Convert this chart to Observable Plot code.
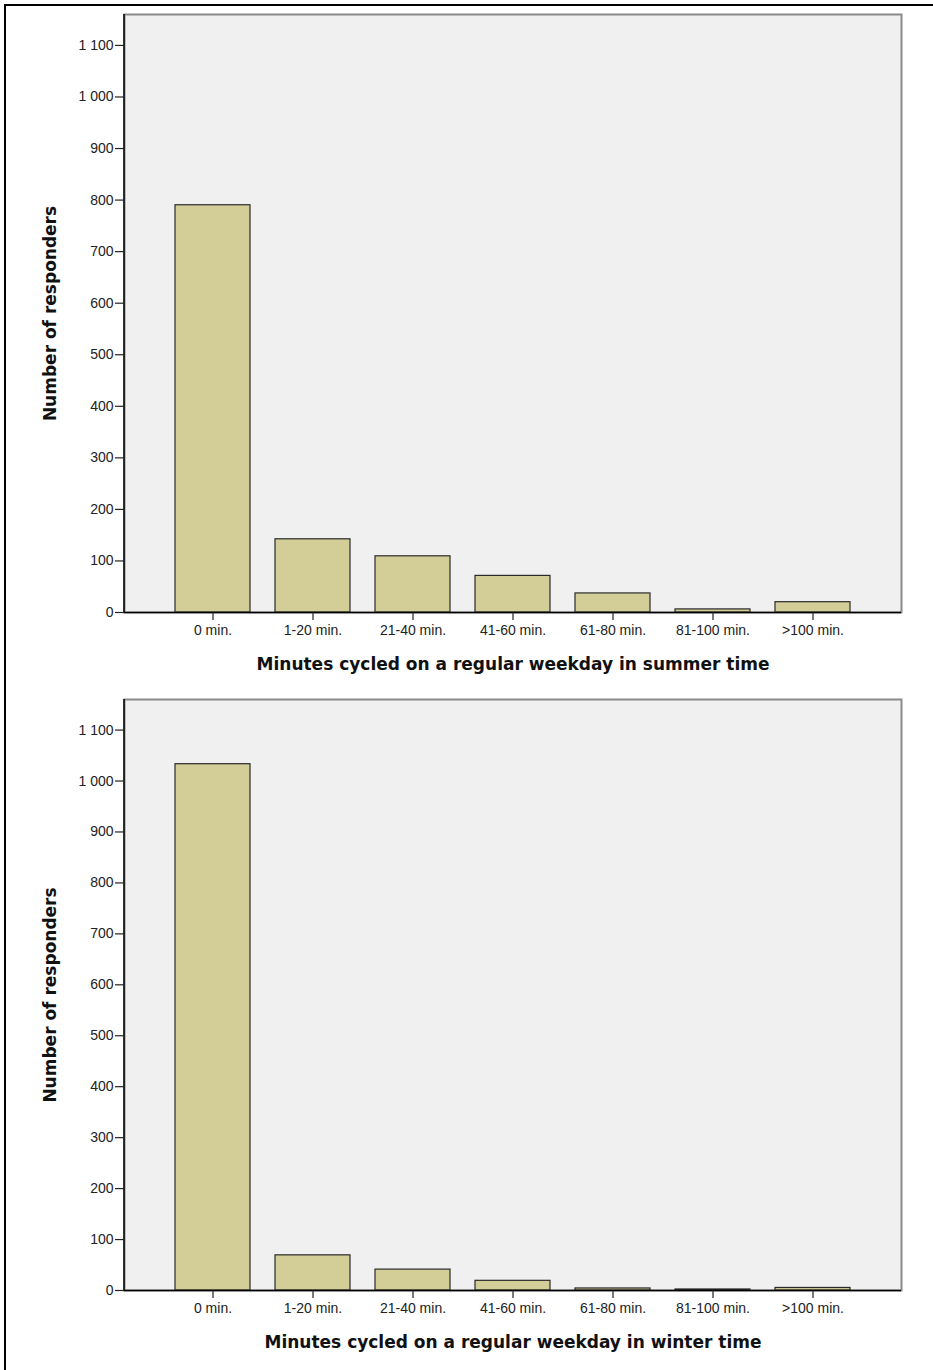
<!DOCTYPE html>
<html>
<head>
<meta charset="utf-8">
<script src="https://cdn.jsdelivr.net/npm/d3@7"></script>
<script src="https://cdn.jsdelivr.net/npm/@observablehq/plot@0.6"></script>
<style>
  html, body { margin: 0; padding: 0; background: #fff; }
  #page { position: relative; width: 933px; height: 1370px; overflow: hidden; }
  #frame { position: absolute; left: 4px; top: 4px; width: 940px; height: 1380px;
           border-left: 2px solid #000; border-top: 2px solid #000; }
  .chart { position: absolute; left: 0; }
</style>
</head>
<body>
<div id="page">
  <div id="frame"></div>
  <div id="c1" class="chart" style="top:0px"></div>
  <div id="c2" class="chart" style="top:690px"></div>
</div>
<script>
const categories = ["0 min.", "1-20 min.", "21-40 min.", "41-60 min.", "61-80 min.", "81-100 min.", ">100 min."];
const summerValues = [790, 142, 109, 71, 37, 6, 20];
const winterValues = [1033, 69, 41, 19, 4, 2, 5];
const yTicks = [0, 100, 200, 300, 400, 500, 600, 700, 800, 900, 1000, 1100];
const summerTitle = "Minutes cycled on a regular weekday in summer time";
const winterTitle = "Minutes cycled on a regular weekday in winter time";
const yTitle = "Number of responders";

const fmt = d3.formatLocale({decimal: ".", thousands: " ", grouping: [3], currency: ["", ""]}).format(",");

function leftAxisLine() {
  return (index, scales, values, dims) => {
    const g = document.createElementNS("http://www.w3.org/2000/svg", "line");
    g.setAttribute("x1", dims.marginLeft);
    g.setAttribute("x2", dims.marginLeft);
    g.setAttribute("y1", dims.marginTop);
    g.setAttribute("y2", dims.height - dims.marginBottom);
    g.setAttribute("stroke", "#000");
    g.setAttribute("stroke-width", 1.5);
    return g;
  };
}

function makeChart(values, title, height, marginTop, marginBottom) {
  const data = categories.map((c, i) => ({cat: c, n: values[i]}));
  return Plot.plot({
    width: 933,
    height,
    marginLeft: 124,
    marginRight: 32,
    marginTop,
    marginBottom,
    style: {fontFamily: "'Liberation Sans', Arial, sans-serif", fontSize: "14px", color: "#222", background: "transparent", overflow: "visible"},
    x: {domain: categories, paddingInner: 0.25, paddingOuter: 0.51, label: null},
    y: {domain: [0, 1160], label: null},
    marks: [
      Plot.frame({fill: "#F0F0F0", stroke: "#8a8a8a", strokeWidth: 2}),
      Plot.barY(data, {x: "cat", y: "n", fill: "#D3CE97", stroke: "#2a2a2a", strokeWidth: 1.2}),
      Plot.ruleY([0], {stroke: "#000", strokeWidth: 1.5}),
      leftAxisLine(),
      Plot.axisY({ticks: yTicks, tickFormat: fmt, tickSize: 9, tickPadding: 2, stroke: "#222", strokeWidth: 1.2, fontSize: 14, label: null}),
      Plot.axisX({tickSize: 8, tickPadding: 5, stroke: "#222", strokeWidth: 1.2, fontSize: 14, label: null}),
      Plot.text([title], {frameAnchor: "bottom", dy: 52, text: d => d, fontFamily: "'DejaVu Sans', Verdana, sans-serif", fontWeight: "bold", fontSize: 17, fill: "#111", lineAnchor: "middle", textAnchor: "middle"}),
      Plot.text([yTitle], {frameAnchor: "left", dx: -74, rotate: -90, text: d => d, fontFamily: "'DejaVu Sans', Verdana, sans-serif", fontWeight: "bold", fontSize: 17, fill: "#111", lineAnchor: "middle", textAnchor: "middle"})
    ]
  });
}

document.getElementById("c1").append(makeChart(summerValues, summerTitle, 690, 14, 78));
document.getElementById("c2").append(makeChart(winterValues, winterTitle, 680, 9, 80));
</script>
</body>
</html>
